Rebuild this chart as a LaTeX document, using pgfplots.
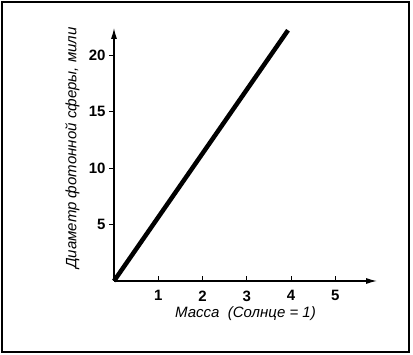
\documentclass[border=0pt]{standalone}
\usepackage{fontspec}
\setmainfont{Liberation Sans}
\usepackage{pgfplots}
\usetikzlibrary{arrows.meta}
\pgfplotsset{compat=1.18}
\begin{document}
\begin{tikzpicture}[x=1pt,y=1pt]
\useasboundingbox (-114,-74) rectangle (299,281);
\draw[line width=1.6pt] (-112,-71) rectangle (295,279);
\begin{axis}[
  at={(0,0)}, anchor=origin,
  scale only axis, width=263pt, height=253pt,
  xmin=0, xmax=5.94, ymin=0, ymax=22.4,
  axis lines=left,
  axis line style={line width=1.2pt, -{Latex[length=11pt,width=6pt]}},
  xtick={1,2,3,4,5}, ytick={5,10,15,20},
  xtick align=inside, ytick align=outside,
  major tick length=5pt,
  tick style={line width=1pt, black},
  /pgf/number format/assume math mode=true,
  ticklabel style={font=\fontsize{15}{17}\selectfont\bfseries},
  xticklabel style={yshift=-6pt},
  xlabel={Масса\ \ (Солнце = 1)},
  ylabel={Диаметр фотонной сферы, мили},
  label style={font=\fontsize{15}{17}\selectfont\itshape},
  x label style={at={(axis description cs:0.5,-0.13)}, anchor=center},
  y label style={at={(axis description cs:-0.158,0.526)}, anchor=center},
  clip=false,
]
\addplot[line width=4.5pt, black] coordinates {(0,0) (3.93,22.2)};
\end{axis}
\end{tikzpicture}
\end{document}
